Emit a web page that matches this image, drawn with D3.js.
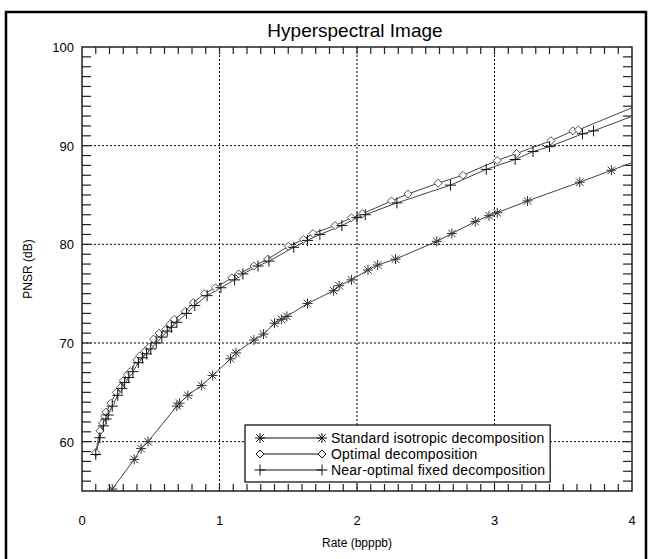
<!DOCTYPE html>
<html>
<head>
<meta charset="utf-8">
<script src="https://cdn.jsdelivr.net/npm/d3@7"></script>
<style>
body { margin: 0; background: white; }
svg { font-family: 'Liberation Sans', Arial, sans-serif; }
</style>
</head>
<body>
<svg width="652" height="559"></svg>
<script>
// data (rate in bpppb, PNSR in dB)
let stdX = [0.22, 0.38, 0.43, 0.48, 0.69, 0.71, 0.77, 0.87, 0.95, 1.08, 1.12, 1.25, 1.32, 1.40, 1.45, 1.49, 1.64, 1.83, 1.87, 1.96, 2.08, 2.15, 2.28, 2.58, 2.69, 2.86, 2.96, 3.02, 3.24, 3.62, 3.85, 4.08];
let stdY = [55.2, 58.2, 59.3, 60.0, 63.6, 63.9, 64.7, 65.7, 66.7, 68.4, 69.0, 70.3, 70.9, 72.0, 72.4, 72.7, 74.0, 75.3, 75.8, 76.4, 77.4, 77.9, 78.5, 80.3, 81.1, 82.3, 82.9, 83.2, 84.4, 86.3, 87.5, 88.7];

let optX = [0.10, 0.13, 0.15, 0.165, 0.175, 0.21, 0.25, 0.28, 0.30, 0.33, 0.35, 0.40, 0.42, 0.46, 0.49, 0.52, 0.56, 0.61, 0.64, 0.67, 0.75, 0.81, 0.89, 0.97, 1.09, 1.14, 1.25, 1.35, 1.50, 1.61, 1.68, 1.84, 1.96, 2.04, 2.25, 2.37, 2.59, 2.77, 3.02, 3.16, 3.41, 3.57, 3.61, 4.08];
let optY = [58.9, 61.1, 61.9, 62.6, 63.0, 63.9, 65.0, 65.5, 66.2, 66.8, 67.1, 68.3, 68.7, 69.2, 69.6, 70.4, 71.0, 71.4, 71.9, 72.4, 73.2, 74.1, 75.0, 75.6, 76.6, 77.0, 77.8, 78.5, 79.8, 80.5, 81.1, 81.9, 82.7, 83.1, 84.4, 85.1, 86.2, 87.0, 88.5, 89.2, 90.5, 91.5, 91.6, 94.3];

let nearX = [0.10, 0.13, 0.155, 0.175, 0.19, 0.22, 0.26, 0.29, 0.31, 0.34, 0.37, 0.41, 0.44, 0.47, 0.50, 0.54, 0.58, 0.62, 0.65, 0.69, 0.76, 0.82, 0.91, 1.01, 1.11, 1.17, 1.28, 1.36, 1.54, 1.64, 1.73, 1.89, 2.00, 2.06, 2.29, 2.68, 2.94, 3.15, 3.28, 3.40, 3.64, 3.72, 4.08];
let nearY = [58.7, 60.4, 61.6, 62.3, 62.7, 63.6, 64.7, 65.4, 66.0, 66.5, 67.1, 68.0, 68.5, 68.9, 69.4, 70.0, 70.6, 71.2, 71.6, 72.1, 73.0, 73.8, 74.8, 75.6, 76.4, 77.0, 77.8, 78.3, 79.7, 80.4, 81.0, 81.9, 82.7, 83.0, 84.2, 86.0, 87.6, 88.6, 89.4, 89.9, 91.2, 91.5, 93.4];

let xTicks = [0, 1, 2, 3, 4];
let yTicks = [60, 70, 80, 90, 100];
let legendNames = ['Standard isotropic decomposition', 'Optimal decomposition', 'Near-optimal fixed decomposition'];

let svg = d3.select('svg');
let pLeft = 82, pRight = 632, pTop = 47, pBottom = 491;

let x = d3.scaleLinear().domain([0, 4]).range([pLeft, pRight]);
let y = d3.scaleLinear().domain([55, 100]).range([pBottom, pTop]);

// outer frame
svg.append('rect').attr('x', 6).attr('y', 12).attr('width', 640).attr('height', 600)
	.style('fill', 'none').style('stroke', 'black').style('stroke-width', 2.5);

svg.append('text').attr('x', (pLeft + pRight) / 2 - 2).attr('y', 37).attr('text-anchor', 'middle')
	.style('font-size', '19px').text('Hyperspectral Image');

// dotted grid
let grid = svg.append('g').style('stroke', 'black').style('stroke-width', 1).style('stroke-dasharray', '2,2');
grid.selectAll('line.gx').data([1, 2, 3]).join('line').attr('class', 'gx')
	.attr('x1', d => x(d)).attr('x2', d => x(d)).attr('y1', pTop).attr('y2', pBottom);
grid.selectAll('line.gy').data([60, 70, 80, 90]).join('line').attr('class', 'gy')
	.attr('x1', pLeft).attr('x2', pRight).attr('y1', d => y(d)).attr('y2', d => y(d));

// axes with inward minor ticks (0.1 on x, 1 dB on y)
let xMinor = d3.range(1, 40).map(d => d / 10);
let yMinor = d3.range(56, 100);
let tk = svg.append('g').style('stroke', '#222').style('stroke-width', 1.2);
tk.selectAll('line.xb').data(xMinor).join('line').attr('class', 'xb')
	.attr('x1', d => x(d)).attr('x2', d => x(d)).attr('y1', pBottom).attr('y2', pBottom - 7);
tk.selectAll('line.xt').data(xMinor).join('line').attr('class', 'xt')
	.attr('x1', d => x(d)).attr('x2', d => x(d)).attr('y1', pTop).attr('y2', pTop + 7);
tk.selectAll('line.yl').data(yMinor).join('line').attr('class', 'yl')
	.attr('x1', pLeft).attr('x2', pLeft + 9).attr('y1', d => y(d)).attr('y2', d => y(d));
tk.selectAll('line.yr').data(yMinor).join('line').attr('class', 'yr')
	.attr('x1', pRight).attr('x2', pRight - 9).attr('y1', d => y(d)).attr('y2', d => y(d));

svg.append('rect').attr('x', pLeft).attr('y', pTop).attr('width', pRight - pLeft).attr('height', pBottom - pTop)
	.style('fill', 'none').style('stroke', '#222').style('stroke-width', 1.5);

// tick labels
svg.append('g').selectAll('text').data(xTicks).join('text')
	.attr('x', d => x(d)).attr('y', 525).attr('text-anchor', 'middle')
	.style('font-size', '13px').text(d => d);
svg.append('g').selectAll('text').data(yTicks).join('text')
	.attr('x', pLeft - 8).attr('y', d => y(d) + 5).attr('text-anchor', 'end')
	.style('font-size', '13px').text(d => d);

svg.append('text').attr('x', (pLeft + pRight) / 2).attr('y', 547).attr('text-anchor', 'middle')
	.style('font-size', '12px').text('Rate (bpppb)');
svg.append('text').attr('transform', 'translate(32, ' + (pTop + pBottom) / 2 + ') rotate(-90)')
	.attr('text-anchor', 'middle').style('font-size', '12px').text('PNSR (dB)');

// marker shapes
function asterisk(g, s) {
	g.append('path').attr('d', `M${-s},0H${s}M0,${-s}V${s}M${-s*0.75},${-s*0.75}L${s*0.75},${s*0.75}M${-s*0.75},${s*0.75}L${s*0.75},${-s*0.75}`);
}
function diamond(g, s) {
	g.append('path').attr('d', `M0,${-s}L${s},0L0,${s}L${-s},0Z`).style('fill', 'white');
}
function plus(g, s) {
	g.append('path').attr('d', `M${-s},0H${s}M0,${-s}V${s}`);
}

let series = [
	{xs: stdX, ys: stdY, mark: asterisk, size: 5, color: '#333'},
	{xs: optX, ys: optY, mark: diamond, size: 4, color: '#555'},
	{xs: nearX, ys: nearY, mark: plus, size: 5.5, color: '#111'}
];

svg.append('clipPath').attr('id', 'plotclip').append('rect')
	.attr('x', pLeft).attr('y', pTop).attr('width', pRight - pLeft).attr('height', pBottom - pTop);
let plot = svg.append('g').attr('clip-path', 'url(#plotclip)');

let lineFn = d3.line().x(d => x(d[0])).y(d => y(d[1]));
for (let s of series) {
	let pts = s.xs.map((v, i) => [v, s.ys[i]]);
	plot.append('path').attr('d', lineFn(pts))
		.style('fill', 'none').style('stroke', '#444').style('stroke-width', 1);
}
for (let s of series) {
	let pts = s.xs.map((v, i) => [v, s.ys[i]]);
	plot.append('g').selectAll('g').data(pts).join('g')
		.attr('transform', d => 'translate(' + x(d[0]) + ',' + y(d[1]) + ')')
		.style('stroke', s.color).style('stroke-width', 1).style('fill', 'none')
		.each(function() { s.mark(d3.select(this), s.size); });
}

// legend (box sized to its longest entry)
let lg = svg.append('g').attr('transform', 'translate(245, 425)');
let box = lg.append('rect').attr('height', 57)
	.style('fill', 'white').style('stroke', 'black').style('stroke-width', 1.2);
let maxEnd = 0;
series.forEach(function(s, i) {
	let ly = 13 + i * 16;
	lg.append('line').attr('x1', 15).attr('x2', 77).attr('y1', ly).attr('y2', ly)
		.style('stroke', '#111').style('stroke-width', 1);
	[15, 77].forEach(function(lx) {
		let g = lg.append('g').attr('transform', 'translate(' + lx + ',' + ly + ')')
			.style('stroke', '#111').style('stroke-width', 1).style('fill', 'none');
		s.mark(g, s.size);
	});
	let t = lg.append('text').attr('x', 86).attr('y', ly + 5).style('font-size', '14px')
		.style('letter-spacing', '0.2px').text(legendNames[i]);
	maxEnd = Math.max(maxEnd, 86 + t.node().getComputedTextLength());
});
box.attr('width', maxEnd + 5);
</script>
</body>
</html>
